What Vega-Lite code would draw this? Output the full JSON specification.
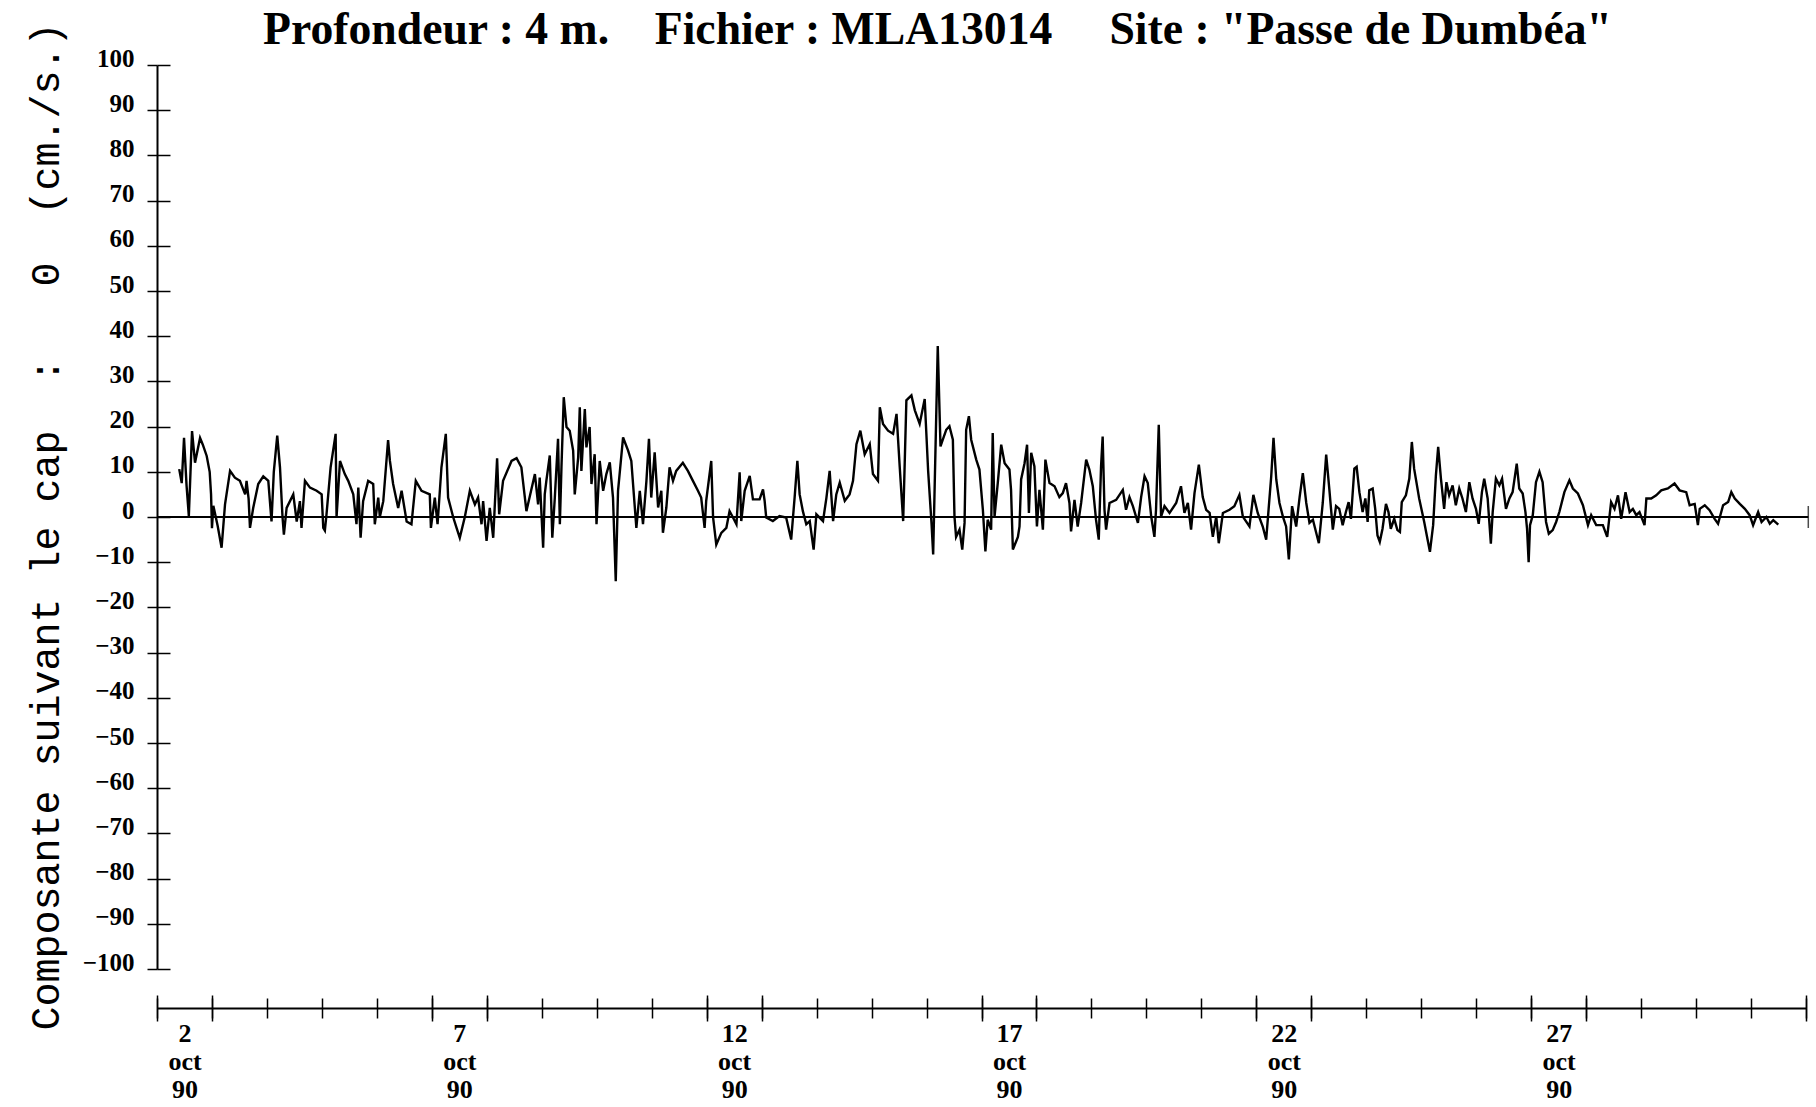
{
  "$schema": "https://vega.github.io/schema/vega-lite/v6.json",
  "autosize": {"type": "none"},
  "padding": {"left": 157, "top": 65, "right": 10, "bottom": 138},
  "width": 1649,
  "height": 904,
  "background": "white",
  "config": {"view": {"stroke": null}},
  "title": {
    "text": "Profondeur : 4 m.\u00a0\u00a0\u00a0 Fichier : MLA13014\u00a0\u00a0\u00a0\u00a0 Site : \"Passe de Dumbéa\"",
    "font": "Liberation Serif", "fontSize": 45.7, "fontWeight": "bold", "color": "black",
    "anchor": "middle", "dx": -44, "dy": 32, "offset": 0
  },
  "datasets": {
    "ligne_zero": [{"debut": "1990-10-02T00:00", "fin": "1990-11-01T01:00", "niveau": 0}],
    "courant": [
      {"date": "1990-10-02T09:42", "composante": 10.6},
      {"date": "1990-10-02T10:48", "composante": 7.5},
      {"date": "1990-10-02T11:48", "composante": 17.5},
      {"date": "1990-10-02T12:54", "composante": 7},
      {"date": "1990-10-02T13:54", "composante": 0.2},
      {"date": "1990-10-02T15:18", "composante": 19},
      {"date": "1990-10-02T16:36", "composante": 12},
      {"date": "1990-10-02T18:48", "composante": 17.5},
      {"date": "1990-10-02T20:00", "composante": 16},
      {"date": "1990-10-02T21:42", "composante": 13.5},
      {"date": "1990-10-02T23:00", "composante": 10},
      {"date": "1990-10-02T23:36", "composante": 5},
      {"date": "1990-10-03T00:00", "composante": -2.5},
      {"date": "1990-10-03T00:36", "composante": 2.5},
      {"date": "1990-10-03T02:30", "composante": -2},
      {"date": "1990-10-03T04:12", "composante": -6.8},
      {"date": "1990-10-03T05:42", "composante": 2.8},
      {"date": "1990-10-03T07:54", "composante": 10.2},
      {"date": "1990-10-03T10:00", "composante": 8.7},
      {"date": "1990-10-03T12:12", "composante": 8},
      {"date": "1990-10-03T14:30", "composante": 5},
      {"date": "1990-10-03T15:06", "composante": 8},
      {"date": "1990-10-03T16:00", "composante": 4},
      {"date": "1990-10-03T16:36", "composante": -2.4},
      {"date": "1990-10-03T18:00", "composante": 2},
      {"date": "1990-10-03T20:12", "composante": 7.3},
      {"date": "1990-10-03T22:24", "composante": 9},
      {"date": "1990-10-04T00:36", "composante": 8},
      {"date": "1990-10-04T02:00", "composante": -1},
      {"date": "1990-10-04T03:00", "composante": 10},
      {"date": "1990-10-04T04:30", "composante": 18},
      {"date": "1990-10-04T05:42", "composante": 11},
      {"date": "1990-10-04T06:48", "composante": 0},
      {"date": "1990-10-04T07:24", "composante": -3.9},
      {"date": "1990-10-04T08:36", "composante": 2},
      {"date": "1990-10-04T11:30", "composante": 5},
      {"date": "1990-10-04T13:00", "composante": -1},
      {"date": "1990-10-04T14:24", "composante": 3.5},
      {"date": "1990-10-04T15:06", "composante": -2.4},
      {"date": "1990-10-04T16:36", "composante": 8},
      {"date": "1990-10-04T18:48", "composante": 6.5},
      {"date": "1990-10-04T21:42", "composante": 5.8},
      {"date": "1990-10-04T23:54", "composante": 5},
      {"date": "1990-10-05T00:36", "composante": -2.4},
      {"date": "1990-10-05T01:18", "composante": -3},
      {"date": "1990-10-05T02:00", "composante": 0.5},
      {"date": "1990-10-05T03:48", "composante": 11},
      {"date": "1990-10-05T06:00", "composante": 18.4},
      {"date": "1990-10-05T06:24", "composante": 0},
      {"date": "1990-10-05T07:54", "composante": 12.4},
      {"date": "1990-10-05T10:00", "composante": 9.5},
      {"date": "1990-10-05T11:30", "composante": 8},
      {"date": "1990-10-05T13:42", "composante": 5},
      {"date": "1990-10-05T15:06", "composante": -1.6},
      {"date": "1990-10-05T15:54", "composante": 6.5},
      {"date": "1990-10-05T16:54", "composante": -4.6},
      {"date": "1990-10-05T18:00", "composante": 3.5},
      {"date": "1990-10-05T20:12", "composante": 8},
      {"date": "1990-10-05T22:24", "composante": 7.3},
      {"date": "1990-10-05T23:06", "composante": -1.6},
      {"date": "1990-10-06T00:36", "composante": 4.3},
      {"date": "1990-10-06T01:18", "composante": 0},
      {"date": "1990-10-06T02:48", "composante": 3.5},
      {"date": "1990-10-06T04:54", "composante": 17},
      {"date": "1990-10-06T05:42", "composante": 12.4},
      {"date": "1990-10-06T07:06", "composante": 7.3},
      {"date": "1990-10-06T09:18", "composante": 2},
      {"date": "1990-10-06T10:48", "composante": 5.8},
      {"date": "1990-10-06T13:00", "composante": -1},
      {"date": "1990-10-06T15:06", "composante": -1.6},
      {"date": "1990-10-06T17:00", "composante": 8},
      {"date": "1990-10-06T19:30", "composante": 5.8},
      {"date": "1990-10-06T23:06", "composante": 5},
      {"date": "1990-10-06T23:36", "composante": -2.4},
      {"date": "1990-10-07T01:18", "composante": 4.3},
      {"date": "1990-10-07T02:30", "composante": -1.6},
      {"date": "1990-10-07T04:12", "composante": 11},
      {"date": "1990-10-07T06:06", "composante": 18.4},
      {"date": "1990-10-07T07:06", "composante": 4.3},
      {"date": "1990-10-07T09:18", "composante": 0},
      {"date": "1990-10-07T10:48", "composante": -2.4},
      {"date": "1990-10-07T12:12", "composante": -4.6},
      {"date": "1990-10-07T14:24", "composante": 0},
      {"date": "1990-10-07T16:36", "composante": 5.8},
      {"date": "1990-10-07T18:48", "composante": 2.8},
      {"date": "1990-10-07T20:12", "composante": 4.3},
      {"date": "1990-10-07T21:42", "composante": -1.6},
      {"date": "1990-10-07T22:24", "composante": 3.5},
      {"date": "1990-10-07T23:54", "composante": -5.3},
      {"date": "1990-10-08T01:18", "composante": 2},
      {"date": "1990-10-08T02:48", "composante": -4.6},
      {"date": "1990-10-08T04:30", "composante": 13},
      {"date": "1990-10-08T05:24", "composante": 0.6},
      {"date": "1990-10-08T07:06", "composante": 8},
      {"date": "1990-10-08T10:48", "composante": 12.4},
      {"date": "1990-10-08T13:00", "composante": 13},
      {"date": "1990-10-08T15:06", "composante": 11},
      {"date": "1990-10-08T17:18", "composante": 1.3},
      {"date": "1990-10-08T21:00", "composante": 9.5},
      {"date": "1990-10-08T22:24", "composante": 2.8},
      {"date": "1990-10-08T23:06", "composante": 8.7},
      {"date": "1990-10-09T00:36", "composante": -6.8},
      {"date": "1990-10-09T01:18", "composante": 5},
      {"date": "1990-10-09T02:00", "composante": 8},
      {"date": "1990-10-09T03:30", "composante": 13.6},
      {"date": "1990-10-09T04:36", "composante": -4.6},
      {"date": "1990-10-09T05:42", "composante": 4.3},
      {"date": "1990-10-09T07:06", "composante": 17.3},
      {"date": "1990-10-09T07:54", "composante": -1.6},
      {"date": "1990-10-09T08:36", "composante": 11},
      {"date": "1990-10-09T09:36", "composante": 26.5},
      {"date": "1990-10-09T10:48", "composante": 19.9},
      {"date": "1990-10-09T12:12", "composante": 19.1},
      {"date": "1990-10-09T13:42", "composante": 14.7},
      {"date": "1990-10-09T14:24", "composante": 5},
      {"date": "1990-10-09T15:54", "composante": 13.2},
      {"date": "1990-10-09T16:36", "composante": 24.3},
      {"date": "1990-10-09T17:18", "composante": 10.2},
      {"date": "1990-10-09T18:48", "composante": 23.9},
      {"date": "1990-10-09T19:30", "composante": 15.4},
      {"date": "1990-10-09T20:54", "composante": 19.9},
      {"date": "1990-10-09T21:42", "composante": 7.3},
      {"date": "1990-10-09T23:06", "composante": 13.9},
      {"date": "1990-10-09T23:54", "composante": -1.6},
      {"date": "1990-10-10T01:18", "composante": 12.4},
      {"date": "1990-10-10T02:48", "composante": 5.8},
      {"date": "1990-10-10T04:12", "composante": 9.5},
      {"date": "1990-10-10T05:42", "composante": 12.1},
      {"date": "1990-10-10T07:06", "composante": 4.3},
      {"date": "1990-10-10T08:18", "composante": -14.2},
      {"date": "1990-10-10T09:18", "composante": 5.8},
      {"date": "1990-10-10T11:30", "composante": 17.6},
      {"date": "1990-10-10T13:42", "composante": 14.7},
      {"date": "1990-10-10T15:06", "composante": 12.4},
      {"date": "1990-10-10T17:18", "composante": -2.4},
      {"date": "1990-10-10T18:48", "composante": 5.8},
      {"date": "1990-10-10T20:12", "composante": -1.6},
      {"date": "1990-10-10T21:42", "composante": 8},
      {"date": "1990-10-10T22:48", "composante": 17.3},
      {"date": "1990-10-10T23:48", "composante": 4.3},
      {"date": "1990-10-11T01:18", "composante": 14.3},
      {"date": "1990-10-11T02:48", "composante": 2.1},
      {"date": "1990-10-11T04:12", "composante": 5.8},
      {"date": "1990-10-11T04:54", "composante": -3.5},
      {"date": "1990-10-11T06:24", "composante": 2.1},
      {"date": "1990-10-11T07:48", "composante": 11},
      {"date": "1990-10-11T09:18", "composante": 8},
      {"date": "1990-10-11T10:42", "composante": 10.2},
      {"date": "1990-10-11T13:36", "composante": 12},
      {"date": "1990-10-11T15:48", "composante": 10.2},
      {"date": "1990-10-11T18:00", "composante": 8},
      {"date": "1990-10-11T20:12", "composante": 5.8},
      {"date": "1990-10-11T21:36", "composante": 4.3},
      {"date": "1990-10-11T23:06", "composante": -2.4},
      {"date": "1990-10-11T23:48", "composante": 3.6},
      {"date": "1990-10-12T02:00", "composante": 12.4},
      {"date": "1990-10-12T02:48", "composante": -0.1},
      {"date": "1990-10-12T04:12", "composante": -6.1},
      {"date": "1990-10-12T06:24", "composante": -3.5},
      {"date": "1990-10-12T08:36", "composante": -2.4},
      {"date": "1990-10-12T10:00", "composante": 1.3},
      {"date": "1990-10-12T11:30", "composante": -0.1},
      {"date": "1990-10-12T13:00", "composante": -1.6},
      {"date": "1990-10-12T14:24", "composante": 9.9},
      {"date": "1990-10-12T15:06", "composante": -0.9},
      {"date": "1990-10-12T16:36", "composante": 5.8},
      {"date": "1990-10-12T18:48", "composante": 9.1},
      {"date": "1990-10-12T20:12", "composante": 3.9},
      {"date": "1990-10-12T23:06", "composante": 3.9},
      {"date": "1990-10-13T00:36", "composante": 6.1},
      {"date": "1990-10-13T01:18", "composante": 3.6},
      {"date": "1990-10-13T02:00", "composante": -0.1},
      {"date": "1990-10-13T04:54", "composante": -0.9},
      {"date": "1990-10-13T07:48", "composante": 0.2},
      {"date": "1990-10-13T10:42", "composante": -0.1},
      {"date": "1990-10-13T12:54", "composante": -5},
      {"date": "1990-10-13T14:24", "composante": 4.3},
      {"date": "1990-10-13T15:36", "composante": 12.4},
      {"date": "1990-10-13T16:36", "composante": 5},
      {"date": "1990-10-13T18:00", "composante": 1.3},
      {"date": "1990-10-13T19:30", "composante": -1.6},
      {"date": "1990-10-13T21:00", "composante": -0.9},
      {"date": "1990-10-13T22:42", "composante": -7.2},
      {"date": "1990-10-13T23:54", "composante": 0.6},
      {"date": "1990-10-14T02:48", "composante": -0.9},
      {"date": "1990-10-14T04:18", "composante": 4.3},
      {"date": "1990-10-14T05:42", "composante": 10.2},
      {"date": "1990-10-14T07:12", "composante": -0.9},
      {"date": "1990-10-14T08:36", "composante": 5},
      {"date": "1990-10-14T10:06", "composante": 7.6},
      {"date": "1990-10-14T12:18", "composante": 3.6},
      {"date": "1990-10-14T14:24", "composante": 5},
      {"date": "1990-10-14T15:54", "composante": 8},
      {"date": "1990-10-14T17:24", "composante": 16.1},
      {"date": "1990-10-14T19:06", "composante": 19.1},
      {"date": "1990-10-14T21:00", "composante": 13.9},
      {"date": "1990-10-14T23:12", "composante": 16.1},
      {"date": "1990-10-15T00:36", "composante": 9.5},
      {"date": "1990-10-15T02:48", "composante": 8},
      {"date": "1990-10-15T03:36", "composante": 24.3},
      {"date": "1990-10-15T05:00", "composante": 20.6},
      {"date": "1990-10-15T07:12", "composante": 19.1},
      {"date": "1990-10-15T09:24", "composante": 18.4},
      {"date": "1990-10-15T10:54", "composante": 22.8},
      {"date": "1990-10-15T12:18", "composante": 11},
      {"date": "1990-10-15T13:48", "composante": -0.9},
      {"date": "1990-10-15T15:12", "composante": 25.8},
      {"date": "1990-10-15T17:24", "composante": 26.9},
      {"date": "1990-10-15T18:54", "composante": 23.6},
      {"date": "1990-10-15T21:00", "composante": 20.6},
      {"date": "1990-10-15T23:12", "composante": 26.1},
      {"date": "1990-10-16T00:42", "composante": 10.2},
      {"date": "1990-10-16T02:12", "composante": -1.6},
      {"date": "1990-10-16T02:54", "composante": -8.3},
      {"date": "1990-10-16T04:54", "composante": 37.8},
      {"date": "1990-10-16T06:06", "composante": 15.6},
      {"date": "1990-10-16T07:06", "composante": 17.1},
      {"date": "1990-10-16T08:36", "composante": 19.3},
      {"date": "1990-10-16T10:00", "composante": 20.1},
      {"date": "1990-10-16T11:30", "composante": 17.1},
      {"date": "1990-10-16T12:12", "composante": 0.1},
      {"date": "1990-10-16T12:54", "composante": -4.4},
      {"date": "1990-10-16T14:24", "composante": -2.8},
      {"date": "1990-10-16T15:36", "composante": -7.2},
      {"date": "1990-10-16T16:36", "composante": -1.3},
      {"date": "1990-10-16T17:18", "composante": 19.3},
      {"date": "1990-10-16T18:30", "composante": 22.3},
      {"date": "1990-10-16T19:30", "composante": 17.1},
      {"date": "1990-10-16T21:42", "composante": 12.7},
      {"date": "1990-10-16T23:06", "composante": 10.5},
      {"date": "1990-10-17T00:36", "composante": 1.6},
      {"date": "1990-10-17T01:42", "composante": -7.6},
      {"date": "1990-10-17T02:42", "composante": -0.6},
      {"date": "1990-10-17T04:12", "composante": -2.8},
      {"date": "1990-10-17T04:54", "composante": 18.6},
      {"date": "1990-10-17T05:42", "composante": 0.1},
      {"date": "1990-10-17T07:06", "composante": 7.5},
      {"date": "1990-10-17T08:36", "composante": 16},
      {"date": "1990-10-17T10:06", "composante": 11.9},
      {"date": "1990-10-17T12:12", "composante": 10.5},
      {"date": "1990-10-17T12:54", "composante": 6},
      {"date": "1990-10-17T13:42", "composante": -7.2},
      {"date": "1990-10-17T15:54", "composante": -4.4},
      {"date": "1990-10-17T16:36", "composante": -2.1},
      {"date": "1990-10-17T17:18", "composante": 8.3},
      {"date": "1990-10-17T18:48", "composante": 11.9},
      {"date": "1990-10-17T19:54", "composante": 16},
      {"date": "1990-10-17T20:42", "composante": 0.9},
      {"date": "1990-10-17T21:42", "composante": 14.2},
      {"date": "1990-10-17T23:06", "composante": 11.2},
      {"date": "1990-10-18T00:12", "composante": -2.1},
      {"date": "1990-10-18T01:18", "composante": 6},
      {"date": "1990-10-18T02:48", "composante": -2.8},
      {"date": "1990-10-18T03:54", "composante": 12.7},
      {"date": "1990-10-18T05:42", "composante": 7.5},
      {"date": "1990-10-18T07:54", "composante": 6.8},
      {"date": "1990-10-18T10:00", "composante": 4.4},
      {"date": "1990-10-18T11:30", "composante": 5.3},
      {"date": "1990-10-18T12:54", "composante": 7.5},
      {"date": "1990-10-18T14:24", "composante": 3.1},
      {"date": "1990-10-18T15:06", "composante": -3.2},
      {"date": "1990-10-18T16:36", "composante": 3.8},
      {"date": "1990-10-18T18:00", "composante": -2.1},
      {"date": "1990-10-18T19:30", "composante": 3.1},
      {"date": "1990-10-18T21:42", "composante": 12.7},
      {"date": "1990-10-18T23:06", "composante": 10.5},
      {"date": "1990-10-19T00:36", "composante": 6.8},
      {"date": "1990-10-19T02:00", "composante": -0.6},
      {"date": "1990-10-19T03:12", "composante": -5},
      {"date": "1990-10-19T04:12", "composante": 11.2},
      {"date": "1990-10-19T04:54", "composante": 17.8},
      {"date": "1990-10-19T05:42", "composante": 1.6},
      {"date": "1990-10-19T06:24", "composante": -2.8},
      {"date": "1990-10-19T07:54", "composante": 3.1},
      {"date": "1990-10-19T10:48", "composante": 3.8},
      {"date": "1990-10-19T13:42", "composante": 6},
      {"date": "1990-10-19T15:06", "composante": 1.6},
      {"date": "1990-10-19T16:36", "composante": 4.4},
      {"date": "1990-10-19T18:06", "composante": 2.4},
      {"date": "1990-10-19T20:18", "composante": -1.3},
      {"date": "1990-10-19T21:42", "composante": 4.4},
      {"date": "1990-10-19T23:12", "composante": 9},
      {"date": "1990-10-20T00:36", "composante": 7.5},
      {"date": "1990-10-20T02:06", "composante": 0.1},
      {"date": "1990-10-20T03:30", "composante": -4.4},
      {"date": "1990-10-20T04:12", "composante": 1.6},
      {"date": "1990-10-20T05:24", "composante": 20.4},
      {"date": "1990-10-20T06:24", "composante": 0.1},
      {"date": "1990-10-20T07:54", "composante": 2.4},
      {"date": "1990-10-20T10:06", "composante": 0.9},
      {"date": "1990-10-20T13:00", "composante": 3.1},
      {"date": "1990-10-20T15:06", "composante": 6.8},
      {"date": "1990-10-20T16:36", "composante": 0.9},
      {"date": "1990-10-20T18:06", "composante": 3.1},
      {"date": "1990-10-20T19:30", "composante": -2.8},
      {"date": "1990-10-20T21:00", "composante": 5.3},
      {"date": "1990-10-20T22:54", "composante": 11.6},
      {"date": "1990-10-21T00:36", "composante": 4.4},
      {"date": "1990-10-21T02:06", "composante": 1.6},
      {"date": "1990-10-21T03:36", "composante": 0.9},
      {"date": "1990-10-21T05:00", "composante": -4.4},
      {"date": "1990-10-21T06:30", "composante": 0.1},
      {"date": "1990-10-21T07:36", "composante": -5.8},
      {"date": "1990-10-21T09:24", "composante": 0.9},
      {"date": "1990-10-21T12:18", "composante": 1.6},
      {"date": "1990-10-21T14:24", "composante": 2.4},
      {"date": "1990-10-21T16:36", "composante": 4.9},
      {"date": "1990-10-21T18:06", "composante": 0.1},
      {"date": "1990-10-21T21:00", "composante": -2.1},
      {"date": "1990-10-21T22:42", "composante": 4.9},
      {"date": "1990-10-22T00:36", "composante": 0.9},
      {"date": "1990-10-22T02:48", "composante": -2.1},
      {"date": "1990-10-22T04:18", "composante": -5},
      {"date": "1990-10-22T06:30", "composante": 9},
      {"date": "1990-10-22T07:30", "composante": 17.5},
      {"date": "1990-10-22T08:42", "composante": 8.3},
      {"date": "1990-10-22T10:06", "composante": 3.1},
      {"date": "1990-10-22T11:36", "composante": 0.1},
      {"date": "1990-10-22T13:00", "composante": -2.1},
      {"date": "1990-10-22T14:12", "composante": -9.4},
      {"date": "1990-10-22T15:36", "composante": 2.4},
      {"date": "1990-10-22T17:24", "composante": -2.1},
      {"date": "1990-10-22T18:54", "composante": 4.4},
      {"date": "1990-10-22T20:18", "composante": 9.7},
      {"date": "1990-10-22T21:48", "composante": 3.1},
      {"date": "1990-10-22T23:12", "composante": -1.3},
      {"date": "1990-10-23T00:42", "composante": -0.6},
      {"date": "1990-10-23T03:18", "composante": -5.8},
      {"date": "1990-10-23T05:00", "composante": 3.1},
      {"date": "1990-10-23T06:30", "composante": 13.8},
      {"date": "1990-10-23T07:54", "composante": 6},
      {"date": "1990-10-23T09:24", "composante": -2.8},
      {"date": "1990-10-23T10:48", "composante": 2.4},
      {"date": "1990-10-23T12:12", "composante": 1.8},
      {"date": "1990-10-23T13:42", "composante": -1.8},
      {"date": "1990-10-23T15:06", "composante": 1.1},
      {"date": "1990-10-23T16:18", "composante": 3.3},
      {"date": "1990-10-23T17:18", "composante": -0.4},
      {"date": "1990-10-23T18:48", "composante": 10.7},
      {"date": "1990-10-23T19:48", "composante": 11.1},
      {"date": "1990-10-23T21:00", "composante": 5.5},
      {"date": "1990-10-23T22:24", "composante": 1.1},
      {"date": "1990-10-23T23:36", "composante": 4.1},
      {"date": "1990-10-24T00:36", "composante": -1.1},
      {"date": "1990-10-24T01:18", "composante": 5.9},
      {"date": "1990-10-24T02:48", "composante": 6.3},
      {"date": "1990-10-24T03:54", "composante": 1.8},
      {"date": "1990-10-24T04:54", "composante": -4.1},
      {"date": "1990-10-24T05:54", "composante": -5.5},
      {"date": "1990-10-24T07:06", "composante": -2.6},
      {"date": "1990-10-24T08:36", "composante": 2.9},
      {"date": "1990-10-24T09:42", "composante": 1.1},
      {"date": "1990-10-24T10:42", "composante": -2.6},
      {"date": "1990-10-24T12:12", "composante": -0.4},
      {"date": "1990-10-24T13:36", "composante": -2.9},
      {"date": "1990-10-24T14:42", "composante": -3.3},
      {"date": "1990-10-24T15:30", "composante": 3.3},
      {"date": "1990-10-24T17:18", "composante": 4.8},
      {"date": "1990-10-24T18:48", "composante": 8.5},
      {"date": "1990-10-24T19:54", "composante": 16.6},
      {"date": "1990-10-24T20:54", "composante": 10.7},
      {"date": "1990-10-24T23:06", "composante": 4.1},
      {"date": "1990-10-25T01:18", "composante": -1.1},
      {"date": "1990-10-25T02:42", "composante": -4.8},
      {"date": "1990-10-25T03:48", "composante": -7.7},
      {"date": "1990-10-25T05:12", "composante": -1.8},
      {"date": "1990-10-25T06:24", "composante": 9.2},
      {"date": "1990-10-25T07:24", "composante": 15.5},
      {"date": "1990-10-25T08:36", "composante": 8.5},
      {"date": "1990-10-25T10:00", "composante": 1.8},
      {"date": "1990-10-25T11:00", "composante": 7.7},
      {"date": "1990-10-25T12:12", "composante": 4.8},
      {"date": "1990-10-25T13:42", "composante": 7},
      {"date": "1990-10-25T15:06", "composante": 2.6},
      {"date": "1990-10-25T16:36", "composante": 6.3},
      {"date": "1990-10-25T18:00", "composante": 4.1},
      {"date": "1990-10-25T19:30", "composante": 1.1},
      {"date": "1990-10-25T21:00", "composante": 7.7},
      {"date": "1990-10-25T22:24", "composante": 4.1},
      {"date": "1990-10-25T23:54", "composante": 1.8},
      {"date": "1990-10-26T01:06", "composante": -1.5},
      {"date": "1990-10-26T02:30", "composante": 5.5},
      {"date": "1990-10-26T03:30", "composante": 8.5},
      {"date": "1990-10-26T05:00", "composante": 4.1},
      {"date": "1990-10-26T06:24", "composante": -5.9},
      {"date": "1990-10-26T07:12", "composante": 1.1},
      {"date": "1990-10-26T08:36", "composante": 8.5},
      {"date": "1990-10-26T10:06", "composante": 7},
      {"date": "1990-10-26T11:18", "composante": 8.5},
      {"date": "1990-10-26T13:00", "composante": 1.8},
      {"date": "1990-10-26T14:30", "composante": 4.1},
      {"date": "1990-10-26T15:54", "composante": 5.5},
      {"date": "1990-10-26T17:42", "composante": 11.8},
      {"date": "1990-10-26T18:48", "composante": 6.3},
      {"date": "1990-10-26T20:18", "composante": 5.2},
      {"date": "1990-10-26T21:30", "composante": 1.1},
      {"date": "1990-10-26T22:12", "composante": -2.6},
      {"date": "1990-10-26T22:54", "composante": -10},
      {"date": "1990-10-26T23:30", "composante": -1.8},
      {"date": "1990-10-27T00:42", "composante": 0.4},
      {"date": "1990-10-27T02:06", "composante": 7.7},
      {"date": "1990-10-27T03:36", "composante": 10},
      {"date": "1990-10-27T05:00", "composante": 7.7},
      {"date": "1990-10-27T06:30", "composante": -1.1},
      {"date": "1990-10-27T07:42", "composante": -3.7},
      {"date": "1990-10-27T09:24", "composante": -2.9},
      {"date": "1990-10-27T10:54", "composante": -1.1},
      {"date": "1990-10-27T12:18", "composante": 1.1},
      {"date": "1990-10-27T14:30", "composante": 5.5},
      {"date": "1990-10-27T16:42", "composante": 8.1},
      {"date": "1990-10-27T18:12", "composante": 6.3},
      {"date": "1990-10-27T20:24", "composante": 5.2},
      {"date": "1990-10-27T22:36", "composante": 2.6},
      {"date": "1990-10-28T00:48", "composante": -1.8},
      {"date": "1990-10-28T02:12", "composante": 0.4},
      {"date": "1990-10-28T04:24", "composante": -1.8},
      {"date": "1990-10-28T07:18", "composante": -1.8},
      {"date": "1990-10-28T09:12", "composante": -4.4},
      {"date": "1990-10-28T10:54", "composante": 3.3},
      {"date": "1990-10-28T12:24", "composante": 1.8},
      {"date": "1990-10-28T13:54", "composante": 4.8},
      {"date": "1990-10-28T15:18", "composante": -0.4},
      {"date": "1990-10-28T17:12", "composante": 5.5},
      {"date": "1990-10-28T19:00", "composante": 1.1},
      {"date": "1990-10-28T20:24", "composante": 1.8},
      {"date": "1990-10-28T21:54", "composante": 0.4},
      {"date": "1990-10-28T23:18", "composante": 1.1},
      {"date": "1990-10-29T01:30", "composante": -1.8},
      {"date": "1990-10-29T02:18", "composante": 4.1},
      {"date": "1990-10-29T04:24", "composante": 4.1},
      {"date": "1990-10-29T06:36", "composante": 4.8},
      {"date": "1990-10-29T08:48", "composante": 5.9},
      {"date": "1990-10-29T11:42", "composante": 6.3},
      {"date": "1990-10-29T14:36", "composante": 7.4},
      {"date": "1990-10-29T16:48", "composante": 5.9},
      {"date": "1990-10-29T19:42", "composante": 5.5},
      {"date": "1990-10-29T21:12", "composante": 2.6},
      {"date": "1990-10-29T23:24", "composante": 2.9},
      {"date": "1990-10-30T00:48", "composante": -1.8},
      {"date": "1990-10-30T01:36", "composante": 1.8},
      {"date": "1990-10-30T03:48", "composante": 2.6},
      {"date": "1990-10-30T05:54", "composante": 1.5},
      {"date": "1990-10-30T08:06", "composante": -0.4},
      {"date": "1990-10-30T09:36", "composante": -1.5},
      {"date": "1990-10-30T11:48", "composante": 2.6},
      {"date": "1990-10-30T14:00", "composante": 3.3},
      {"date": "1990-10-30T15:24", "composante": 5.5},
      {"date": "1990-10-30T16:54", "composante": 4.1},
      {"date": "1990-10-30T19:06", "composante": 2.9},
      {"date": "1990-10-30T21:18", "composante": 1.8},
      {"date": "1990-10-30T23:24", "composante": 0.4},
      {"date": "1990-10-31T00:54", "composante": -1.8},
      {"date": "1990-10-31T03:06", "composante": 1.1},
      {"date": "1990-10-31T04:36", "composante": -1.1},
      {"date": "1990-10-31T06:42", "composante": 0},
      {"date": "1990-10-31T08:12", "composante": -1.5},
      {"date": "1990-10-31T09:42", "composante": -0.7},
      {"date": "1990-10-31T11:54", "composante": -1.7}
    ]
  },
  "resolve": {"axis": {"x": "independent", "y": "independent"}},
  "layer": [
    {
      "data": {"name": "courant"},
      "mark": {"type": "line", "color": "black", "strokeWidth": 2.4},
      "encoding": {
        "x": {
          "field": "date", "type": "temporal",
          "scale": {"domain": [{"year": 1990, "month": 10, "date": 2}, {"year": 1990, "month": 11, "date": 1}]},
          "axis": {
            "orient": "bottom", "offset": 39, "domain": true, "domainColor": "black", "domainWidth": 2,
            "ticks": true, "tickColor": "black", "tickWidth": 1.5, "tickSize": 10,
            "tickCount": {"interval": "day", "step": 1}, "labels": false, "grid": false, "title": null
          }
        },
        "y": {
          "field": "composante", "type": "quantitative",
          "scale": {"domain": [-100, 100], "nice": false, "zero": false},
          "axis": {
            "orient": "left",
            "values": [-100, -90, -80, -70, -60, -50, -40, -30, -20, -10, 0, 10, 20, 30, 40, 50, 60, 70, 80, 90, 100],
            "domain": true, "domainColor": "black", "domainWidth": 2,
            "ticks": true, "tickSize": 10, "tickColor": "black", "tickWidth": 1.5,
            "labelFont": "Liberation Serif", "labelFontWeight": "bold", "labelFontSize": 25, "labelColor": "black",
            "labelPadding": 13, "labelBaseline": "alphabetic", "labelOffset": 1,
            "labelOverlap": false, "labelFlush": false, "grid": false,
            "title": "Composante suivant le cap\u00a0\u00a0:\u00a0\u00a0\u00a00\u00a0\u00a0(cm./s.)",
            "titleFont": "Liberation Mono", "titleFontSize": 40, "titleFontWeight": "normal", "titleColor": "black",
            "titleX": -99, "titleY": 461, "titleAngle": -90, "titleBaseline": "alphabetic", "titleAlign": "center"
          }
        }
      }
    },
    {
      "data": {"name": "ligne_zero"},
      "mark": {"type": "rule", "color": "black", "strokeWidth": 2},
      "encoding": {
        "x": {"field": "debut", "type": "temporal", "axis": null,
              "scale": {"domain": [{"year": 1990, "month": 10, "date": 2}, {"year": 1990, "month": 11, "date": 1}]}},
        "x2": {"field": "fin"},
        "y": {"field": "niveau", "type": "quantitative", "axis": null,
              "scale": {"domain": [-100, 100], "nice": false, "zero": false}}
      }
    },
    {
      "data": {"name": "ligne_zero"},
      "mark": {"type": "tick", "orient": "vertical", "color": "black", "size": 22, "thickness": 1.5},
      "encoding": {
        "x": {"field": "fin", "type": "temporal", "axis": null,
              "scale": {"domain": [{"year": 1990, "month": 10, "date": 2}, {"year": 1990, "month": 11, "date": 1}]}},
        "y": {"field": "niveau", "type": "quantitative", "axis": null,
              "scale": {"domain": [-100, 100], "nice": false, "zero": false}}
      }
    },
    {
      "data": {"name": "ligne_zero"},
      "mark": {"type": "point", "opacity": 0},
      "encoding": {
        "x": {
          "field": "debut", "type": "temporal",
          "scale": {"domain": [{"year": 1990, "month": 10, "date": 2}, {"year": 1990, "month": 11, "date": 1}]},
          "axis": {
            "orient": "bottom", "offset": 29, "domain": false, "ticks": true, "tickSize": 10,
            "tickColor": "black", "tickWidth": 1.5, "tickCount": {"interval": "day", "step": 1},
            "labels": false, "grid": false, "title": null
          }
        },
        "y": {
          "field": "niveau", "type": "quantitative",
          "scale": {"domain": [-100, 100], "nice": false, "zero": false},
          "axis": {
            "orient": "left", "offset": -13, "domain": false, "ticks": true, "tickSize": 13,
            "tickColor": "black", "tickWidth": 1.5,
            "values": [-100, -90, -80, -70, -60, -50, -40, -30, -20, -10, 0, 10, 20, 30, 40, 50, 60, 70, 80, 90, 100],
            "labels": false, "grid": false, "title": null
          }
        }
      }
    },
    {
      "data": {"name": "ligne_zero"},
      "mark": {"type": "point", "opacity": 0},
      "encoding": {
        "x": {
          "field": "debut", "type": "temporal",
          "scale": {"domain": [{"year": 1990, "month": 10, "date": 2}, {"year": 1990, "month": 11, "date": 1}]},
          "axis": {
            "orient": "bottom", "offset": 26, "domain": false, "ticks": true, "tickSize": 26,
            "tickColor": "black", "tickWidth": 1.5,
            "values": [
              {"year": 1990, "month": 10, "date": 2}, {"year": 1990, "month": 10, "date": 3},
              {"year": 1990, "month": 10, "date": 7}, {"year": 1990, "month": 10, "date": 8},
              {"year": 1990, "month": 10, "date": 12}, {"year": 1990, "month": 10, "date": 13},
              {"year": 1990, "month": 10, "date": 17}, {"year": 1990, "month": 10, "date": 18},
              {"year": 1990, "month": 10, "date": 22}, {"year": 1990, "month": 10, "date": 23},
              {"year": 1990, "month": 10, "date": 27}, {"year": 1990, "month": 10, "date": 28},
              {"year": 1990, "month": 11, "date": 1}
            ],
            "labels": false, "grid": false, "title": null
          }
        },
        "y": {"field": "niveau", "type": "quantitative", "axis": null,
              "scale": {"domain": [-100, 100], "nice": false, "zero": false}}
      }
    },
    {
      "data": {"name": "ligne_zero"},
      "mark": {"type": "point", "opacity": 0},
      "encoding": {
        "x": {
          "field": "debut", "type": "temporal",
          "scale": {"domain": [{"year": 1990, "month": 10, "date": 2}, {"year": 1990, "month": 11, "date": 1}]},
          "axis": {
            "orient": "bottom", "offset": 39, "domain": false, "ticks": false, "tickSize": 0,
            "values": [
              {"year": 1990, "month": 10, "date": 2, "hours": 12},
              {"year": 1990, "month": 10, "date": 7, "hours": 12},
              {"year": 1990, "month": 10, "date": 12, "hours": 12},
              {"year": 1990, "month": 10, "date": 17, "hours": 12},
              {"year": 1990, "month": 10, "date": 22, "hours": 12},
              {"year": 1990, "month": 10, "date": 27, "hours": 12}
            ],
            "labelExpr": "[timeFormat(datum.value, '%-d'), 'oct', '90']",
            "labelFont": "Liberation Serif", "labelFontWeight": "bold", "labelFontSize": 26,
            "labelLineHeight": 28, "labelPadding": 12, "labelColor": "black",
            "labelOverlap": false, "labelFlush": false, "labelBound": false,
            "grid": false, "title": null
          }
        },
        "y": {"field": "niveau", "type": "quantitative", "axis": null,
              "scale": {"domain": [-100, 100], "nice": false, "zero": false}}
      }
    }
  ]
}
